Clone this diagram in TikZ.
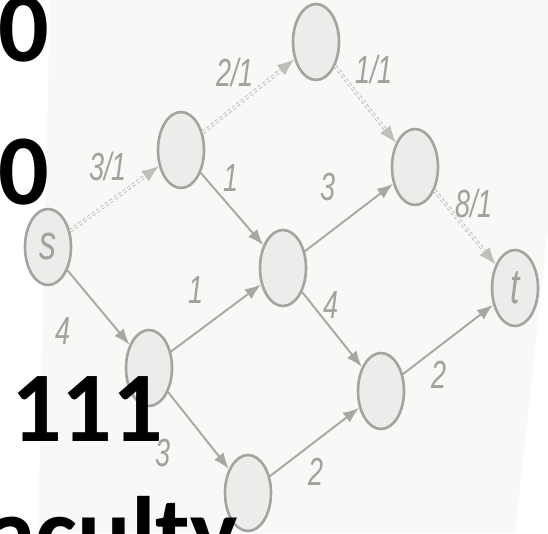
\documentclass[tikz,border=0pt]{standalone}
\usepackage{fontspec}
\setmainfont{Liberation Sans}
\newfontfamily\slidefont{Carlito}
\usetikzlibrary{shapes.geometric,arrows.meta}

\definecolor{nodegray}{HTML}{A2A49F}
\definecolor{nodefill}{HTML}{ECECEA}
\definecolor{edgegray}{HTML}{A6A8A3}
\definecolor{flowgray}{HTML}{BEBFBB}
\definecolor{labelgray}{HTML}{A0A29D}
\definecolor{paper}{HTML}{F8F8F7}

\newcommand{\tallbox}[1]{\scalebox{1}[1.45]{#1}}

\tikzset{
  vertex/.style={ellipse, draw=nodegray, line width=2.6pt, fill=nodefill,
    minimum width=46pt, minimum height=76pt, inner sep=0pt,
    font=\fontsize{34}{34}\selectfont\itshape, text=labelgray},
  capedge/.style={draw=edgegray, line width=1.9pt, -{Latex[length=16pt,width=12pt]}},
  flowedge/.style={draw=flowgray, line width=1pt, double=paper, double distance=1.6pt,
    dash pattern=on 3pt off 2.5pt, -{Latex[length=17pt,width=13pt]}},
  caplabel/.style={font=\fontsize{27}{27}\selectfont\itshape, text=labelgray, inner sep=0pt},
  slidetext/.style={font=\slidefont\bfseries\fontsize{100}{100}\selectfont, inner sep=0pt, text=black}
}

\begin{document}
\begin{tikzpicture}[x=1pt, y=-1pt]
  \useasboundingbox (0,0) rectangle (548,533);
  \clip (0,0) rectangle (548,533);
  \fill[white] (0,0) rectangle (548,533);
  \fill[paper] (50,0) -- (548,0) -- (548,230) -- (515,533) -- (38,533) -- cycle;

  % vertices
  \node[vertex] (s) at (48,247) {\tallbox{s}};
  \node[vertex] (a) at (181,150) {};
  \node[vertex] (b) at (316,42) {};
  \node[vertex] (c) at (415,167) {};
  \node[vertex] (m) at (283,268) {};
  \node[vertex] (d) at (149,368) {};
  \node[vertex] (e) at (381,391) {};
  \node[vertex] (f) at (248,493) {};
  \node[vertex] (t) at (515,288) {\tallbox{t}};

  % augmenting path
  \draw[flowedge] (s) -- (a);
  \draw[flowedge] (a) -- (b);
  \draw[flowedge] (b) -- (c);
  \draw[flowedge] (c) -- (t);

  % other edges
  \draw[capedge] (a) -- (m);
  \draw[capedge] (m) -- (c);
  \draw[capedge] (s) -- (d);
  \draw[capedge] (d) -- (m);
  \draw[capedge] (m) -- (e);
  \draw[capedge] (d) -- (f);
  \draw[capedge] (f) -- (e);
  \draw[capedge] (e) -- (t);

  % labels
  \node[caplabel] (lsa) at (108,167) {\tallbox{3/1}};
  \node[caplabel] (lab) at (235,73) {\tallbox{2/1}};
  \node[caplabel] (lbc) at (374,70) {\tallbox{1/1}};
  \node[caplabel] (lct) at (474,204) {\tallbox{8/1}};
  \node[caplabel] (lam) at (231,178) {\tallbox{1}};
  \node[caplabel] (lmc) at (328,187) {\tallbox{3}};
  \node[caplabel] (lsd) at (63,331) {\tallbox{4}};
  \node[caplabel] (ldm) at (196,290) {\tallbox{1}};
  \node[caplabel] (lme) at (331,305) {\tallbox{4}};
  \node[caplabel] (ldf) at (163,453) {\tallbox{3}};
  \node[caplabel] (lfe) at (316,472) {\tallbox{2}};
  \node[caplabel] (let) at (439,375) {\tallbox{2}};

  % slide text on top
  \node[slidetext, anchor=base east] (zeroa) at (49,61) {0};
  \node[slidetext, anchor=base east] (zerob) at (49,204) {0};
  \node[slidetext, anchor=base west] (ones) at (11,441) {111};
  \node[slidetext, anchor=base east] (word) at (238,566) {aculty};
\end{tikzpicture}
\end{document}
